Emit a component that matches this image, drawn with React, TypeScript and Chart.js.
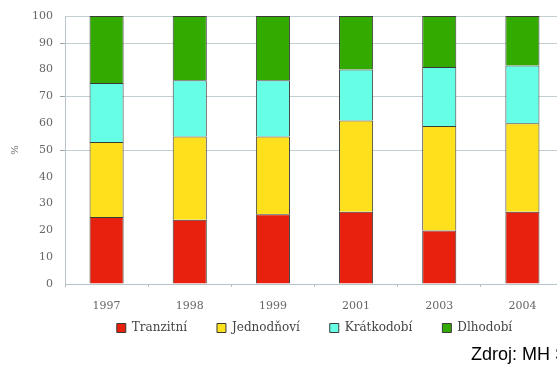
import React, { useEffect, useRef } from "react";
import { Chart, registerables } from "chart.js";

Chart.register(...registerables);

const years = ["1997", "1998", "1999", "2001", "2003", "2004"];
const tranzitni = [25, 24, 26, 27, 20, 27];
const jednodnovi = [28, 31, 29, 34, 39, 33];
const kratkodobi = [22, 21, 21, 19, 22, 21.5];
const dlhodobi = [25, 24, 24, 20, 19, 18.5];
const seriesNames = ["Tranzitní", "Jednodňoví", "Krátkodobí", "Dlhodobí"];
const gridValues = [50, 70, 90, 100];

const gridPlugin = {
  id: "selectiveGrid",
  beforeDatasetsDraw(chart: any) {
    const { ctx, chartArea, scales } = chart;
    const y = scales.y;
    ctx.save();
    ctx.lineWidth = 1;
    gridValues.forEach((v) => {
      const py = Math.round(y.getPixelForValue(v)) + 0.5;
      ctx.strokeStyle = "#c3cfd3";
      ctx.beginPath();
      ctx.moveTo(chartArea.left, py);
      ctx.lineTo(chartArea.right, py);
      ctx.stroke();
      if (v !== 100) {
        ctx.strokeStyle = "#9aa8ac";
        ctx.beginPath();
        ctx.moveTo(chartArea.left - 5, py);
        ctx.lineTo(chartArea.left, py);
        ctx.stroke();
      }
    });
    ctx.restore();
  },
};

export default function App() {
  const ref = useRef<HTMLCanvasElement>(null);

  useEffect(() => {
    if (!ref.current) return;
    const colors = ["#e8200e", "#ffe01c", "#66ffe6", "#33aa00"];
    const data = [tranzitni, jednodnovi, kratkodobi, dlhodobi];
    const chart = new Chart(ref.current, {
      type: "bar",
      data: {
        labels: years,
        datasets: data.map((d, i) => ({
          label: seriesNames[i],
          data: d,
          backgroundColor: colors[i],
          borderColor: "#3a3a3a",
          borderWidth: 1,
          categoryPercentage: 1,
          barPercentage: 0.41,
        })),
      },
      plugins: [gridPlugin],
      options: {
        animation: false,
        responsive: false,
        devicePixelRatio: 1,
        layout: { padding: { left: 0, right: 36, top: 16, bottom: 21 } },
        plugins: {
          tooltip: { enabled: false },
          legend: {
            position: "bottom",
            fullSize: false,
            labels: {
              boxWidth: 9,
              boxHeight: 9,
              padding: 30,
              color: "#444",
              font: { family: "DejaVu Serif", size: 12 },
            },
          },
        },
        scales: {
          x: {
            stacked: true,
            afterFit: (s: any) => {
              s.height = 8;
            },
            border: { display: true, color: "#b5c5ca" },
            grid: {
              display: true,
              drawOnChartArea: false,
              drawTicks: true,
              tickLength: 3,
              color: "#bbbbbb",
            },
            ticks: {
              mirror: true,
              padding: -28.6,
              color: "#666",
              font: { family: "DejaVu Serif", size: 11 },
            },
          },
          y: {
            stacked: true,
            min: 0,
            max: 100,
            afterFit: (s: any) => {
              s.width = 65;
            },
            border: { display: true, color: "#b5c5ca" },
            grid: {
              display: true,
              drawOnChartArea: false,
              drawTicks: true,
              tickLength: 5,
              color: "rgba(0,0,0,0)",
              tickColor: "rgba(0,0,0,0)",
            },
            ticks: {
              stepSize: 10,
              padding: 7,
              color: "#666",
              font: { family: "DejaVu Serif", size: 11 },
            },
            title: {
              display: true,
              text: "%",
              color: "#666",
              font: { family: "DejaVu Serif", size: 10 },
              padding: { top: 9, bottom: 0 },
            },
          },
        },
      },
    });
    return () => chart.destroy();
  }, []);

  return (
    <div
      style={{
        position: "fixed",
        left: 0,
        top: 0,
        width: 557,
        height: 365,
        overflow: "hidden",
        background: "#fff",
      }}
    >
      <div
        style={{
          position: "absolute",
          left: 113,
          top: -19,
          fontFamily: "Liberation Sans, Arial, sans-serif",
          fontWeight: "bold",
          fontSize: 18,
          lineHeight: "18px",
          whiteSpace: "nowrap",
          color: "#000",
        }}
      >
        (v %, 2004)
      </div>
      <canvas
        ref={ref}
        width={600}
        height={365}
        style={{ position: "absolute", left: 0, top: 0, width: 600, height: 365 }}
      />
      <div
        style={{
          position: "absolute",
          left: 471,
          top: 344,
          fontFamily: "Liberation Sans, Arial, sans-serif",
          fontSize: 18,
          lineHeight: "20px",
          whiteSpace: "nowrap",
          color: "#000",
        }}
      >
        Zdroj: MH SR
      </div>
    </div>
  );
}
